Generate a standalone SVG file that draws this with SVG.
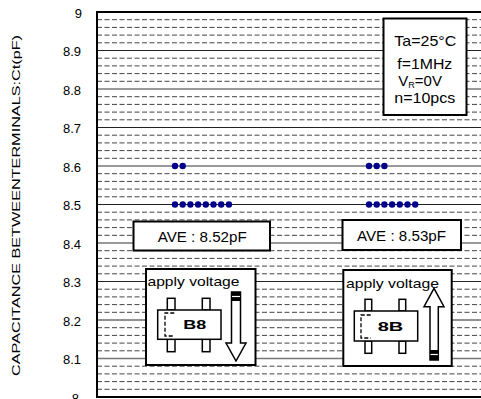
<svg xmlns="http://www.w3.org/2000/svg" width="481" height="399" viewBox="0 0 481 399">
<style>
text{font-family:"Liberation Sans",Arial,sans-serif;fill:#000}
.minor{stroke:#444;stroke-width:1;stroke-dasharray:5,2.5}
.majA{stroke:#222;stroke-width:1}
.majB{stroke:#777;stroke-width:1.5}
.box{fill:#fff;stroke:#000;stroke-width:2}
.dot{fill:#00008b}
.lbl{font-size:13px;text-anchor:end}
.w{fill:#fff;stroke:#000;stroke-width:1.5}
</style>
<rect width="481" height="399" fill="#fff"/>
<g id="grid">
<line class="minor" x1="97" x2="481" y1="19.7" y2="19.7"/><line class="minor" x1="97" x2="481" y1="27.4" y2="27.4"/><line class="minor" x1="97" x2="481" y1="35.1" y2="35.1"/><line class="minor" x1="97" x2="481" y1="42.8" y2="42.8"/>
<line class="minor" x1="97" x2="481" y1="58.2" y2="58.2"/><line class="minor" x1="97" x2="481" y1="65.9" y2="65.9"/><line class="minor" x1="97" x2="481" y1="73.6" y2="73.6"/><line class="minor" x1="97" x2="481" y1="81.3" y2="81.3"/>
<line class="minor" x1="97" x2="481" y1="96.7" y2="96.7"/><line class="minor" x1="97" x2="481" y1="104.4" y2="104.4"/><line class="minor" x1="97" x2="481" y1="112.1" y2="112.1"/><line class="minor" x1="97" x2="481" y1="119.8" y2="119.8"/>
<line class="minor" x1="97" x2="481" y1="135.2" y2="135.2"/><line class="minor" x1="97" x2="481" y1="142.9" y2="142.9"/><line class="minor" x1="97" x2="481" y1="150.6" y2="150.6"/><line class="minor" x1="97" x2="481" y1="158.3" y2="158.3"/>
<line class="minor" x1="97" x2="481" y1="173.7" y2="173.7"/><line class="minor" x1="97" x2="481" y1="181.4" y2="181.4"/><line class="minor" x1="97" x2="481" y1="189.1" y2="189.1"/><line class="minor" x1="97" x2="481" y1="196.8" y2="196.8"/>
<line class="minor" x1="97" x2="481" y1="212.2" y2="212.2"/><line class="minor" x1="97" x2="481" y1="219.9" y2="219.9"/><line class="minor" x1="97" x2="481" y1="227.6" y2="227.6"/><line class="minor" x1="97" x2="481" y1="235.3" y2="235.3"/>
<line class="minor" x1="97" x2="481" y1="250.7" y2="250.7"/><line class="minor" x1="97" x2="481" y1="258.4" y2="258.4"/><line class="minor" x1="97" x2="481" y1="266.1" y2="266.1"/><line class="minor" x1="97" x2="481" y1="273.8" y2="273.8"/>
<line class="minor" x1="97" x2="481" y1="289.2" y2="289.2"/><line class="minor" x1="97" x2="481" y1="296.9" y2="296.9"/><line class="minor" x1="97" x2="481" y1="304.6" y2="304.6"/><line class="minor" x1="97" x2="481" y1="312.3" y2="312.3"/>
<line class="minor" x1="97" x2="481" y1="327.7" y2="327.7"/><line class="minor" x1="97" x2="481" y1="335.4" y2="335.4"/><line class="minor" x1="97" x2="481" y1="343.1" y2="343.1"/><line class="minor" x1="97" x2="481" y1="350.8" y2="350.8"/>
<line class="minor" x1="97" x2="481" y1="366.2" y2="366.2"/><line class="minor" x1="97" x2="481" y1="373.9" y2="373.9"/><line class="minor" x1="97" x2="481" y1="381.6" y2="381.6"/><line class="minor" x1="97" x2="481" y1="389.3" y2="389.3"/>
<line class="majA" x1="97" x2="481" y1="50.5" y2="50.5"/>
<line class="majB" x1="97" x2="481" y1="89" y2="89"/>
<line class="majA" x1="97" x2="481" y1="127.5" y2="127.5"/>
<line class="majB" x1="97" x2="481" y1="166" y2="166"/>
<line class="majA" x1="97" x2="481" y1="204.5" y2="204.5"/>
<line class="majB" x1="97" x2="481" y1="243" y2="243"/>
<line class="majA" x1="97" x2="481" y1="281.5" y2="281.5"/>
<line class="majA" x1="97" x2="481" y1="320" y2="320"/>
<line class="majB" x1="97" x2="481" y1="358.5" y2="358.5"/>
</g>
<rect id="plot-frame" x="97" y="12" width="400" height="385" fill="none" stroke="#000" stroke-width="2"/>
<g id="y-axis">
<text class="lbl" x="82" y="17.5">9</text>
<text class="lbl" x="81" y="56">8.9</text>
<text class="lbl" x="81" y="94.5">8.8</text>
<text class="lbl" x="81" y="133">8.7</text>
<text class="lbl" x="81" y="171.5">8.6</text>
<text class="lbl" x="81" y="210">8.5</text>
<text class="lbl" x="81" y="248.5">8.4</text>
<text class="lbl" x="81" y="287">8.3</text>
<text class="lbl" x="81" y="325.5">8.2</text>
<text class="lbl" x="81" y="364">8.1</text>
<text class="lbl" x="79" y="402.5">8</text>
<text transform="translate(20,376) rotate(-90)" font-size="11.5" textLength="341" lengthAdjust="spacingAndGlyphs">CAPACITANCE BETWEENTERMINALS:Ct(pF)</text>
</g>
<g id="data-left">
<circle class="dot" cx="175" cy="166" r="3.2"/><circle class="dot" cx="182.7" cy="166" r="3.2"/>
<circle class="dot" cx="175" cy="204.5" r="3.2"/><circle class="dot" cx="182.7" cy="204.5" r="3.2"/><circle class="dot" cx="190.4" cy="204.5" r="3.2"/><circle class="dot" cx="198.1" cy="204.5" r="3.2"/><circle class="dot" cx="205.8" cy="204.5" r="3.2"/><circle class="dot" cx="213.5" cy="204.5" r="3.2"/><circle class="dot" cx="221.2" cy="204.5" r="3.2"/><circle class="dot" cx="228.9" cy="204.5" r="3.2"/>
</g>
<g id="data-right">
<circle class="dot" cx="369" cy="166" r="3.2"/><circle class="dot" cx="376.7" cy="166" r="3.2"/><circle class="dot" cx="384.4" cy="166" r="3.2"/>
<circle class="dot" cx="369" cy="204.5" r="3.2"/><circle class="dot" cx="376.7" cy="204.5" r="3.2"/><circle class="dot" cx="384.4" cy="204.5" r="3.2"/><circle class="dot" cx="392.1" cy="204.5" r="3.2"/><circle class="dot" cx="399.8" cy="204.5" r="3.2"/><circle class="dot" cx="407.5" cy="204.5" r="3.2"/><circle class="dot" cx="415.2" cy="204.5" r="3.2"/>
</g>
<g id="conditions">
<rect class="box" x="383.5" y="18.5" width="83" height="96.5"/>
<text x="394.3" y="46" font-size="15" textLength="62" lengthAdjust="spacingAndGlyphs">Ta=25°C</text>
<text x="397.3" y="68.5" font-size="15" textLength="55" lengthAdjust="spacingAndGlyphs">f=1MHz</text>
<text x="398.3" y="86" font-size="15">V<tspan font-size="9" dy="2">R</tspan><tspan dy="-2">=0V</tspan></text>
<text x="394.3" y="103" font-size="15" textLength="61" lengthAdjust="spacingAndGlyphs">n=10pcs</text>
</g>
<g id="ave-left">
<rect class="box" x="133.5" y="221.5" width="136.5" height="29"/>
<text x="157.7" y="242" font-size="15" textLength="89" lengthAdjust="spacingAndGlyphs">AVE : 8.52pF</text>
</g>
<g id="ave-right">
<rect class="box" x="342.5" y="220" width="118.5" height="30"/>
<text x="357" y="241" font-size="15" textLength="89" lengthAdjust="spacingAndGlyphs">AVE : 8.53pF</text>
</g>
<g id="device-left">
<rect class="box" x="146" y="269" width="109.5" height="96"/>
<text x="147.5" y="286" font-size="13" textLength="92" lengthAdjust="spacingAndGlyphs">apply voltage</text>
<rect class="w" x="167.3" y="298.3" width="7.7" height="11.7"/>
<rect class="w" x="202.3" y="298.3" width="7.7" height="11.7"/>
<rect class="w" x="167.3" y="339.3" width="7.7" height="12.4"/>
<rect class="w" x="202.3" y="339.3" width="7.7" height="12.4"/>
<rect class="w" x="157.7" y="310" width="63.3" height="29.3"/>
<path d="M174.3 313 H165 V336 H174.3" fill="none" stroke="#000" stroke-width="1.3" stroke-dasharray="4,2"/>
<text x="183.3" y="329" font-size="13" font-weight="bold" textLength="23" lengthAdjust="spacingAndGlyphs">B8</text>
<path d="M231.5 292 H240.5 V343 H246 L236 361 L226 343 H231.5 Z" fill="#fff" stroke="#000" stroke-width="1.5"/>
<rect x="231.5" y="292" width="9" height="9" fill="#000"/>
<line x1="232" x2="240" y1="296.5" y2="296.5" stroke="#fff" stroke-width="1.2"/>
</g>
<g id="device-right">
<rect class="box" x="343.3" y="270" width="108.4" height="96"/>
<text x="346" y="288.3" font-size="13" textLength="93" lengthAdjust="spacingAndGlyphs">apply voltage</text>
<rect class="w" x="365" y="299.3" width="6.7" height="11.7"/>
<rect class="w" x="399" y="299.3" width="6.7" height="11.7"/>
<rect class="w" x="365" y="341" width="6.7" height="12.3"/>
<rect class="w" x="399" y="341" width="6.7" height="12.3"/>
<rect class="w" x="354.3" y="311" width="63.4" height="30"/>
<path d="M370.7 315 H361 V338 H370.7" fill="none" stroke="#000" stroke-width="1.3" stroke-dasharray="4,2"/>
<text x="377.7" y="331" font-size="13" font-weight="bold" textLength="25.6" lengthAdjust="spacingAndGlyphs">8B</text>
<path d="M430 360 H438.3 V306.7 H444 L434 288.3 L424 306.7 H430 Z" fill="#fff" stroke="#000" stroke-width="1.5"/>
<rect x="430" y="350" width="8.3" height="10" fill="#000"/>
<line x1="430.5" x2="437.8" y1="354.5" y2="354.5" stroke="#fff" stroke-width="1.2"/>
</g>
</svg>
